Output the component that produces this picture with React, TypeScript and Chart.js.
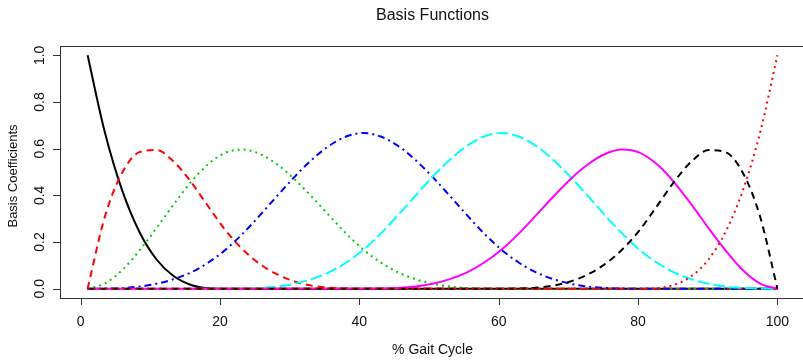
import React, { useEffect, useRef } from "react";
import { Chart, registerables } from "chart.js";

Chart.register(...registerables);

const titleText = "Basis Functions";
const xAxisTitle = "% Gait Cycle";
const yAxisTitle = "Basis Coefficients";

const xTicks = [0, 20, 40, 60, 80, 100];
const yTicks = [0, 0.2, 0.4, 0.6, 0.8, 1.0];

// % gait cycle sample positions
const gaitX = [
  1, 3.475, 5.95, 8.425, 10.9, 13.375, 15.85, 18.325,
  20.8, 23.275, 25.75, 28.225, 30.7, 33.175, 35.65, 38.125,
  40.6, 43.075, 45.55, 48.025, 50.5, 52.975, 55.45, 57.925,
  60.4, 62.875, 65.35, 67.825, 70.3, 72.775, 75.25, 77.725,
  80.2, 82.675, 85.15, 87.625, 90.1, 92.575, 95.05, 97.525, 100,
];

const basis1 = [
  1, 0.67, 0.422, 0.244, 0.125, 0.053, 0.016, 0.002,
  0, 0, 0, 0, 0, 0, 0, 0,
  0, 0, 0, 0, 0, 0, 0, 0,
  0, 0, 0, 0, 0, 0, 0, 0,
  0, 0, 0, 0, 0, 0, 0, 0, 0,
];
const basis2 = [
  0, 0.308, 0.496, 0.585, 0.594, 0.544, 0.457, 0.352,
  0.25, 0.168, 0.105, 0.061, 0.031, 0.013, 0.004, 0.0005,
  0, 0, 0, 0, 0, 0, 0, 0,
  0, 0, 0, 0, 0, 0, 0, 0,
  0, 0, 0, 0, 0, 0, 0, 0, 0,
];
const basis3 = [
  0, 0.022, 0.079, 0.163, 0.26, 0.362, 0.457, 0.534,
  0.583, 0.596, 0.577, 0.532, 0.469, 0.394, 0.314, 0.236,
  0.167, 0.112, 0.07, 0.041, 0.021, 0.009, 0.003, 0.0003,
  0, 0, 0, 0, 0, 0, 0, 0,
  0, 0, 0, 0, 0, 0, 0, 0, 0,
];
const basis4 = [
  0, 0.0003, 0.003, 0.009, 0.021, 0.041, 0.07, 0.112,
  0.167, 0.236, 0.315, 0.398, 0.479, 0.552, 0.612, 0.652,
  0.667, 0.652, 0.612, 0.552, 0.479, 0.398, 0.315, 0.236,
  0.167, 0.112, 0.07, 0.041, 0.021, 0.009, 0.003, 0.0003,
  0, 0, 0, 0, 0, 0, 0, 0, 0,
];
const basis5 = [
  0, 0, 0, 0, 0, 0, 0, 0,
  0, 0.0003, 0.003, 0.009, 0.021, 0.041, 0.07, 0.112,
  0.167, 0.236, 0.315, 0.398, 0.479, 0.552, 0.612, 0.652,
  0.667, 0.652, 0.612, 0.552, 0.479, 0.398, 0.315, 0.236,
  0.167, 0.112, 0.07, 0.041, 0.021, 0.009, 0.003, 0.0003, 0,
];
const basis6 = [
  0, 0, 0, 0, 0, 0, 0, 0,
  0, 0, 0, 0, 0, 0, 0, 0,
  0, 0.0003, 0.003, 0.009, 0.021, 0.041, 0.07, 0.112,
  0.167, 0.236, 0.314, 0.394, 0.469, 0.532, 0.577, 0.596,
  0.583, 0.534, 0.457, 0.362, 0.26, 0.163, 0.079, 0.022, 0,
];
const basis7 = [
  0, 0, 0, 0, 0, 0, 0, 0,
  0, 0, 0, 0, 0, 0, 0, 0,
  0, 0, 0, 0, 0, 0, 0, 0,
  0, 0.0005, 0.004, 0.013, 0.031, 0.061, 0.105, 0.168,
  0.25, 0.352, 0.457, 0.544, 0.594, 0.585, 0.496, 0.308, 0,
];
const basis8 = [
  0, 0, 0, 0, 0, 0, 0, 0,
  0, 0, 0, 0, 0, 0, 0, 0,
  0, 0, 0, 0, 0, 0, 0, 0,
  0, 0, 0, 0, 0, 0, 0, 0,
  0, 0.002, 0.016, 0.053, 0.125, 0.244, 0.422, 0.67, 1,
];

const seriesList = [basis1, basis2, basis3, basis4, basis5, basis6, basis7, basis8];
const seriesColors = ["#000000", "#ff0000", "#00cd00", "#0000ff", "#00ffff", "#ff00ff", "#000000", "#ff0000"];
const solid: number[] = [];
const dashed = [7, 5];
const dotted = [2, 4];
const dotdash = [2, 4, 7, 4];
const longdash = [12, 4];
const seriesDashes = [solid, dashed, dotted, dotdash, longdash, solid, dashed, dotted];

const FONT = "'Liberation Sans', Arial, Helvetica, sans-serif";

const rAxesPlugin = {
  id: "rAxes",
  afterDraw(chart: any) {
    const ctx = chart.ctx as CanvasRenderingContext2D;
    const { left, right, top, bottom } = chart.chartArea;
    const xs = chart.scales.x;
    const ys = chart.scales.y;
    ctx.save();
    ctx.setLineDash([]);
    ctx.strokeStyle = "#333";
    ctx.lineWidth = 1;
    ctx.strokeRect(Math.round(left) + 0.5, Math.round(top) + 0.5, right - left, bottom - top);

    ctx.fillStyle = "#111";
    ctx.font = `14px ${FONT}`;
    ctx.beginPath();
    for (const t of xTicks) {
      const px = Math.round(xs.getPixelForValue(t)) + 0.5;
      ctx.moveTo(px, bottom);
      ctx.lineTo(px, bottom + 7);
    }
    ctx.stroke();
    ctx.textAlign = "center";
    ctx.textBaseline = "middle";
    for (const t of xTicks) {
      ctx.fillText(String(t), xs.getPixelForValue(t), 322);
    }
    ctx.beginPath();
    for (const t of yTicks) {
      const py = Math.round(ys.getPixelForValue(t)) + 0.5;
      ctx.moveTo(left - 7, py);
      ctx.lineTo(left, py);
    }
    ctx.stroke();
    for (const t of yTicks) {
      ctx.save();
      ctx.translate(40, ys.getPixelForValue(t));
      ctx.rotate(-Math.PI / 2);
      ctx.fillText(t.toFixed(1), 0, 0);
      ctx.restore();
    }
    const cx = (left + right) / 2;
    ctx.font = `14px ${FONT}`;
    ctx.fillText(xAxisTitle, cx, 350);
    ctx.save();
    ctx.translate(13, (top + bottom) / 2 + 4);
    ctx.rotate(-Math.PI / 2);
    ctx.font = `13px ${FONT}`;
    ctx.fillText(yAxisTitle, 0, 0);
    ctx.restore();
    ctx.font = `16px ${FONT}`;
    ctx.fillText(titleText, cx, 16);
    ctx.restore();
  },
};

export default function App() {
  const canvasRef = useRef<HTMLCanvasElement | null>(null);

  useEffect(() => {
    const canvas = canvasRef.current;
    if (!canvas) return;
    const datasets = seriesList.map((vals, i) => ({
      label: `B${i + 1}`,
      data: vals.map((v, k) => ({ x: gaitX[k], y: v })),
      borderColor: seriesColors[i],
      backgroundColor: seriesColors[i],
      borderWidth: 2,
      borderDash: seriesDashes[i],
      pointRadius: 0,
      fill: false,
      cubicInterpolationMode: "monotone" as const,
      order: seriesList.length - i,
    }));
    const chart = new Chart(canvas, {
      type: "line",
      data: { datasets },
      options: {
        animation: false,
        responsive: false,
        maintainAspectRatio: false,
        devicePixelRatio: 1,
        layout: { padding: { left: 60, right: 5, top: 46, bottom: 62 } },
        plugins: { legend: { display: false }, tooltip: { enabled: false }, title: { display: false } },
        scales: {
          x: { type: "linear", min: -2.96, max: 103.96, display: false },
          y: { type: "linear", min: -0.04, max: 1.04, display: false },
        },
      },
      plugins: [rAxesPlugin],
    });
    return () => chart.destroy();
  }, []);

  return (
    <div style={{ position: "fixed", left: 0, top: 0, width: 803, height: 360, overflow: "hidden", background: "#fff" }}>
      <canvas ref={canvasRef} width={810} height={360} style={{ display: "block" }} />
    </div>
  );
}
